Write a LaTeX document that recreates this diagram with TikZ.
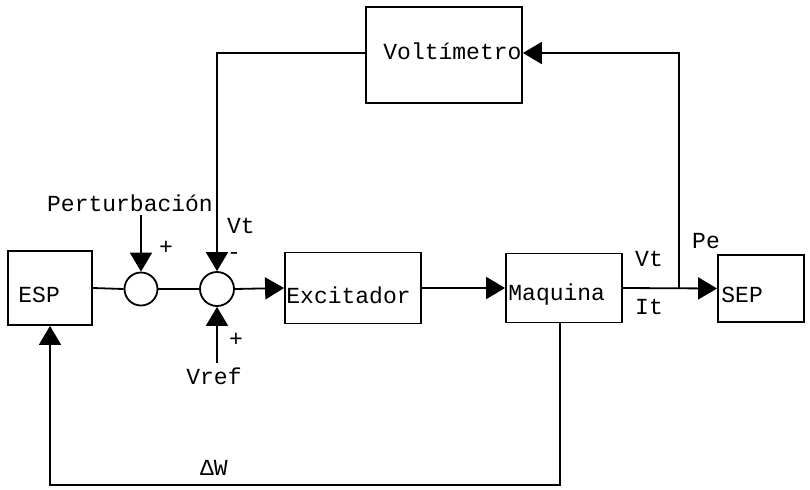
\documentclass[tikz,border=0pt]{standalone}
\usepackage{fontspec}
\setmainfont{Liberation Mono}
\usetikzlibrary{arrows.meta}
\tikzset{
  box/.style={draw, line width=0.9pt, rectangle, inner sep=0pt},
  sumc/.style={draw, line width=0.9pt, circle, inner sep=0pt},
  lbl/.style={inner sep=0pt, font=\fontsize{11.5}{13}\selectfont},
  conn/.style={line width=0.9pt},
  arr/.style={line width=0.9pt, -{Triangle[length=9.5pt,width=11pt]}},
}
\begin{document}
\begin{tikzpicture}[x=0.5pt,y=-0.5pt]
\useasboundingbox (0,0) rectangle (810,489);
% blocks
\node[box, minimum width=42pt, minimum height=37pt] (esp) at (50,288) {};
\node[sumc, minimum size=16.5pt] (s1) at (141,289) {};
\node[sumc, minimum size=17pt] (s2) at (217,289) {};
\node[box, minimum width=68pt, minimum height=35.5pt] (exc) at (353,288) {};
\node[box, minimum width=58pt, minimum height=34.5pt] (maq) at (564,288) {};
\node[box, minimum width=43pt, minimum height=33.5pt] (sep) at (761,288.5) {};
\node[box, minimum width=78pt, minimum height=48pt] (volt) at (444,55) {};
% texts in blocks
\node[lbl, anchor=west] (tesp) at (18,295) {ESP};
\node[lbl, anchor=west] (texc) at (286,295) {Excitador};
\node[lbl, anchor=west] (tmaq) at (508,295) {Maquina};
\node[lbl, anchor=west] (tsep) at (721,295) {SEP};
\node[lbl, anchor=west] (tvolt) at (383,51) {Voltímetro};
% signal labels
\node[lbl] (tpert) at (130,203) {Perturbación};
\node[lbl] (tvref) at (214,376) {Vref};
\node[lbl] (p1) at (166,248) {+};
\node[lbl] (p2) at (236,340) {+};
\node[lbl] (tvt1) at (241,226) {Vt};
\node[lbl] (m1) at (234,256) {-};
\node[lbl] (tvt2) at (649,259) {Vt};
\node[lbl] (tit) at (649,307) {It};
\node[lbl] (tpe) at (706,241) {Pe};
\node[lbl] (tdw) at (214,468) {ΔW};
% coordinates
\coordinate (pertin) at (141,215);
\coordinate (vrefin) at (217,363);
\coordinate (jn) at (679,288);
\coordinate (vtop) at (679,53);
\coordinate (vleft) at (217,53);
\coordinate (fbm) at (560,288);
\coordinate (fbc) at (50,485);
% connectors
\draw[conn] (esp.east) -- (s1.west);
\draw[conn] (s1.east) -- (s2.west);
\draw[arr] (s2.east) -- (exc.west);
\draw[arr] (exc.east) -- (maq.west);
\draw[arr] (maq.east) -- (sep.west);
\draw[arr] (jn) -- (vtop) -- (volt.east |- vtop);
\draw[arr] (volt.west |- vleft) -- (vleft) -- (s2.north);
\draw[arr] (pertin) -- (s1.north);
\draw[arr] (vrefin) -- (s2.south);
\draw[arr] (fbm |- maq.south) |- (fbc) -- (esp.south);
\end{tikzpicture}
\end{document}
